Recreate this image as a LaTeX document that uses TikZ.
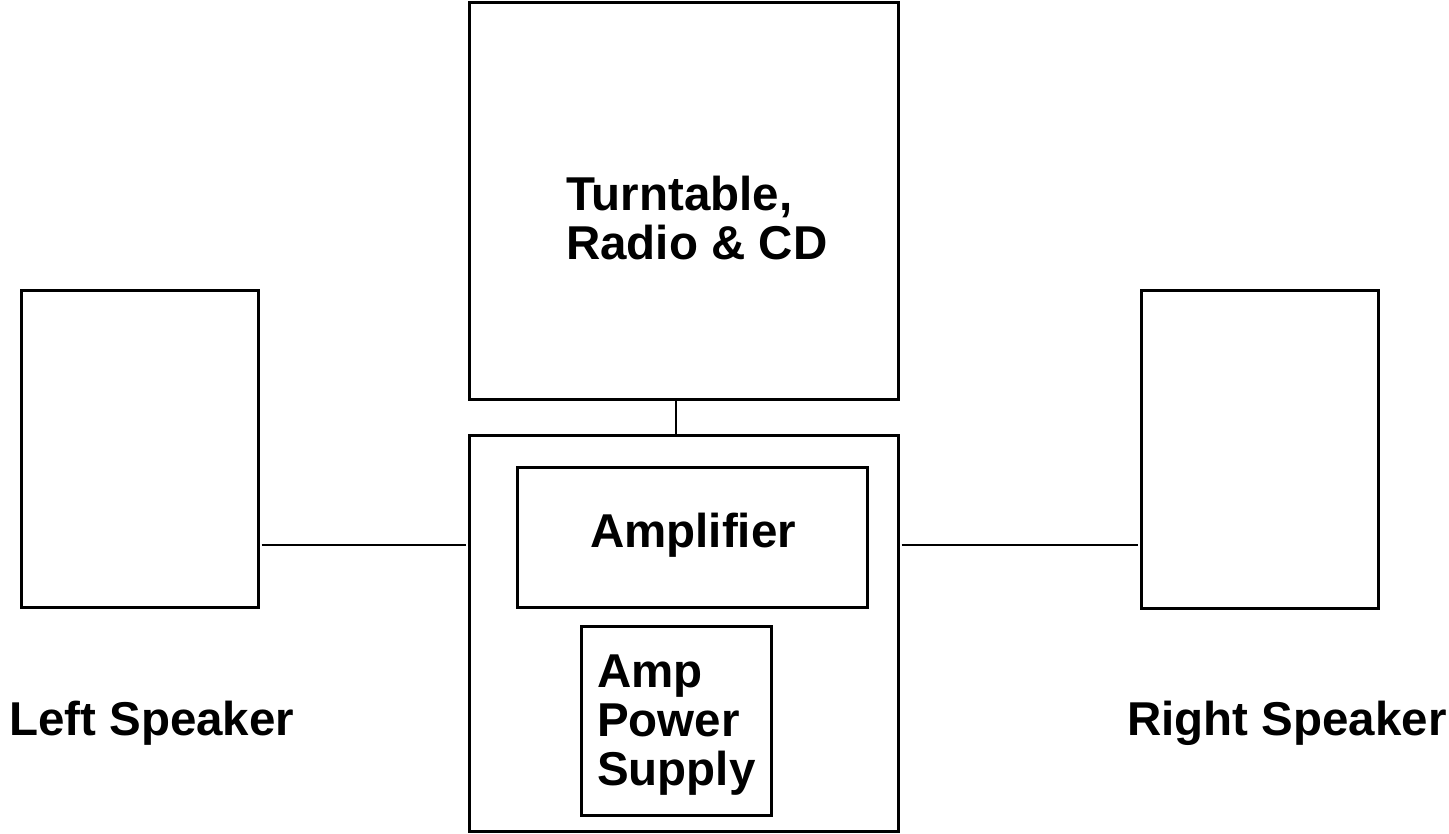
\documentclass[tikz,border=0pt]{standalone}
\usepackage{fontspec}
\setmainfont{Liberation Sans}
\usetikzlibrary{calc}
\tikzset{
    box/.style={draw,line width=3pt,inner sep=0pt},
    wire/.style={line width=2pt},
    lbl/.style={anchor=base west,inner sep=0pt,align=left,font=\bfseries\fontsize{47.5}{49}\selectfont},
  }
\begin{document}
\begin{tikzpicture}[x=1pt,y=-1pt]
				  \useasboundingbox (0,0) rectangle (1449,834);
				  % boites
				  \node[box,minimum width=429pt,minimum height=396pt](tt) at (683.5,201) {};
				  \node[box,minimum width=429pt,minimum height=396pt](amp) at (683.5,633) {};
				  \node[box,minimum width=350pt,minimum height=140pt](ampl) at (692,537) {};
				  \node[box,minimum width=190pt,minimum height=189pt](psu) at (676,720.5) {};
				  \node[box,minimum width=237pt,minimum height=316pt](lspk) at (139.5,449) {};
				  \node[box,minimum width=237pt,minimum height=317pt](rspk) at (1259.5,449.5) {};
				  \coordinate (jack) at (0,545);

				  % textes (base = derniere ligne)
				  \node[lbl](ttl) at (566,260) {Turntable,\\Radio \& CD};
				  \node[lbl](ampll) at (590,547) {Amplifier};
				  \node[lbl](psul) at (597,785) {Amp\\Power\\Supply};
				  \node[lbl](lspkl) at (9,735) {Left Speaker};
				  \node[lbl](rspkl) at (1127,735) {Right Speaker};

				  % fils
				  \draw[wire,shorten <=2pt,shorten >=2pt] (lspk.east |- jack) -- (amp.west |- jack);
				  \draw[wire,shorten <=2pt,shorten >=2pt] (amp.east |- jack) -- (rspk.west |- jack);
				  \draw[wire] (tt.south -| psu.center) -- (amp.north -| psu.center);
\end{tikzpicture}
\end{document}
